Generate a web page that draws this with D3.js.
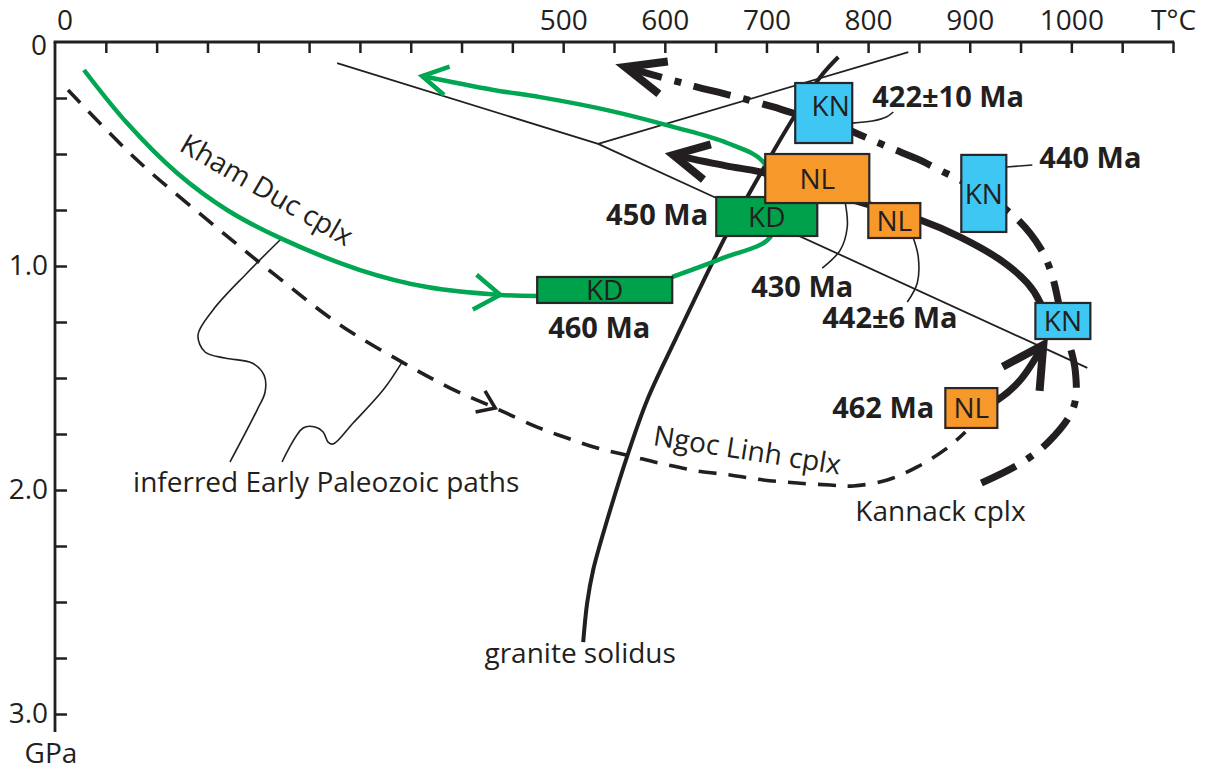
<!DOCTYPE html>
<html>
<head>
<meta charset="utf-8">
<script src="https://cdnjs.cloudflare.com/ajax/libs/d3/7.8.5/d3.min.js"></script>
<style>
  html, body { margin: 0; padding: 0; background: #fff; }
  svg { display: block; font-family: "Open Sans", sans-serif; }
</style>
</head>
<body>
<svg id="chart" width="1212" height="771"></svg>
<script>
// every point is [temperature °C, pressure GPa]

var tempTicks = d3.range(50, 1101, 50)
var tempLabels = [500, 600, 700, 800, 900, 1000]
var presTicks = d3.range(0.25, 3.01, 0.25)
var presLabels = [1, 2, 3]

// Al2SiO5-type reaction lines meeting at the triple point
var reactionA = [[277.6, 0.094], [534.4, 0.455]]
var reactionB = [[534.4, 0.455], [839.6, 0.045]]
var reactionC = [[534.4, 0.455], [1015.7, 1.455]]

var solidus = [[770.7, 0.067], [753.0, 0.156], [726.4, 0.339], [681.1, 0.692], [659.4, 0.871],
  [610.2, 1.330], [582.7, 1.598], [564.0, 1.835], [543.3, 2.134], [529.5, 2.357],
  [523.6, 2.504], [519.7, 2.679]]

// Kham Duc complex (green)
var khamDucPro = [[28.5, 0.125], [70.9, 0.362], [120.1, 0.585], [169.3, 0.75], [223.4, 0.879],
  [300.2, 1.018], [366.1, 1.094], [438, 1.129], [474.4, 1.134]]
var khamDucRetro = [[607.3, 1.049], [657.5, 0.964], [703.7, 0.871], [708.7, 0.705], [696.9, 0.536],
  [661.4, 0.451], [608.3, 0.379], [543.3, 0.304], [477.4, 0.246], [431.1, 0.214], [361.2, 0.152]]

// Ngoc Linh complex: inferred dashed path, then thick solid path
var ngocLinhInferred = [[12.8, 0.214], [80.7, 0.527], [152.6, 0.804], [216.5, 1.040], [280.5, 1.263],
  [341.5, 1.429], [388.8, 1.545], [433.1, 1.634], [474.4, 1.719], [503.9, 1.768], [533.5, 1.8125],
  [565.9, 1.848], [598.4, 1.884], [631.9, 1.915], [664.4, 1.933], [696.9, 1.955], [730.3, 1.969],
  [762.8, 1.978], [785.4, 1.982], [818.9, 1.955], [848.4, 1.897], [877.9, 1.8125], [895.7, 1.741]]
var ngocLinhPro = [[900.6, 1.652], [927.2, 1.598], [949.8, 1.509], [972.4, 1.353]]
var ngocLinhRetro = [[974.4, 1.241], [969.5, 1.165], [956.7, 1.076], [930.1, 0.973], [890.7, 0.871],
  [851.4, 0.795], [802.2, 0.728], [733.3, 0.638], [693.9, 0.580], [661.4, 0.554], [608.3, 0.504]]

// Kannack complex (dash-dot)
var kannack = [[902.6, 1.987], [948.8, 1.884], [977.4, 1.786], [1001.9, 1.634], [1003.9, 1.469],
  [991.1, 1.241], [980.3, 1.031], [969.5, 0.920], [947.8, 0.795], [915.4, 0.683], [890.7, 0.616],
  [874.0, 0.580], [848.4, 0.522], [821.9, 0.473], [792.3, 0.415], [755.9, 0.348], [726.4, 0.317],
  [706.7, 0.290], [678.1, 0.254], [651.6, 0.223], [631.9, 0.201], [561.0, 0.112]]

// dated samples: name, T range, P range
var boxNames = ['KD', 'KD', 'NL', 'NL', 'KN', 'KN', 'KN', 'NL']
var boxT = [[474.4, 607.3], [650.6, 750.0], [698.8, 801.2], [800.2, 851.4], [728.3, 784.4],
  [891.7, 936.0], [964.6, 1018.7], [876.0, 927.2]]
var boxP = [[1.049, 1.165], [0.692, 0.866], [0.500, 0.719], [0.719, 0.875], [0.183, 0.451],
  [0.504, 0.848], [1.165, 1.326], [1.545, 1.723]]

// leader lines
var lead422 = [[784.4, 0.362], [804.1, 0.353], [817.9, 0.335], [824.8, 0.3125]]
var lead430 = [[777.6, 0.719], [779.5, 0.826], [772.6, 0.929], [754.9, 1.009]]
var lead442 = [[844.5, 0.875], [849.4, 0.960], [848.4, 1.076], [838.6, 1.161]]
var lead440 = [[936.0, 0.558], [961.6, 0.549]]
var leadKD = [[223.4, 0.875], [189.0, 1.031], [155.5, 1.196], [140.7, 1.308], [147.6, 1.384],
  [167.3, 1.411], [193.9, 1.433], [205.7, 1.487], [206.7, 1.5625], [198.8, 1.643], [172.2, 1.875]]
var leadNL = [[341.5, 1.429], [322.8, 1.554], [293.3, 1.701], [273.6, 1.795], [268.7, 1.786],
  [263.8, 1.741], [255.9, 1.719], [244.1, 1.723], [223.4, 1.875]]

// age labels [text, T, P, anchor]
var ageLabels = [
  ['422±10 Ma', 804.1, 0.290, 'start'],
  ['440 Ma', 968.5, 0.5625, 'start'],
  ['450 Ma', 642.7, 0.817, 'end'],
  ['430 Ma', 735.2, 1.138, 'middle'],
  ['442±6 Ma', 754.9, 1.277, 'start'],
  ['460 Ma', 485.2, 1.321, 'start'],
  ['462 Ma', 865.2, 1.679, 'end']
]
// name labels [text, T, P, anchor, rotation]
var nameLabels = [
  ['Kannack cplx', 787.4, 2.138, 'start', 0],
  ['granite solidus', 516.7, 2.772, 'middle', 0],
  ['inferred Early Paleozoic paths', 76.8, 2.009, 'start', 0],
  ['Kham Duc cplx', 121.1, 0.482, 'start', 30],
  ['Ngoc Linh cplx', 587.6, 1.799, 'start', 9]
]

var ink = '#231f20'
var greenLine = '#00a651'
var boxColor = {KN: '#3ec7f2', NL: '#f7982b', KD: '#00a14b'}

var svg = d3.select('#chart')
var x = d3.scaleLinear().domain([0, 1100]).range([55, 1173])
var y = d3.scaleLinear().domain([0, 3]).range([42, 714])

var smooth = d3.line()
  .x(function(d) { return x(d[0]) })
  .y(function(d) { return y(d[1]) })
  .curve(d3.curveCatmullRom.alpha(0.5))
var straight = d3.line()
  .x(function(d) { return x(d[0]) })
  .y(function(d) { return y(d[1]) })

// axes
var xAxis = d3.axisTop(x)
  .tickValues(tempTicks)
  .tickSizeInner(-11)
  .tickSizeOuter(0)
  .tickPadding(12)
  .tickFormat(function(d) {
    if (d === 1100) return 'T°C'
    return tempLabels.indexOf(d) >= 0 ? d : ''
  })
var yAxis = d3.axisLeft(y)
  .tickValues(presTicks)
  .tickSizeInner(-12)
  .tickSizeOuter(0)
  .tickPadding(7)
  .tickFormat(function(d) {
    return presLabels.indexOf(Math.round(d * 100) / 100) >= 0 ? d3.format('.1f')(d) : ''
  })

function styleAxis(g) {
  g.select('.domain').remove()
  g.attr('font-family', '"Open Sans", sans-serif').attr('font-size', 28)
  g.selectAll('line').attr('stroke', ink).attr('stroke-width', 2.5)
  g.selectAll('text').attr('fill', ink)
}
svg.append('g').attr('transform', 'translate(0,' + y(0) + ')').call(xAxis).call(styleAxis)
svg.append('g').attr('transform', 'translate(' + x(0) + ',0)').call(yAxis).call(styleAxis)

svg.append('line')
  .attr('x1', x(0) - 1.4).attr('x2', x(1100) + 1.2)
  .attr('y1', y(0)).attr('y2', y(0))
  .attr('stroke', ink).attr('stroke-width', 2.8)
svg.append('line')
  .attr('x1', x(0)).attr('x2', x(0))
  .attr('y1', y(0)).attr('y2', y(3.08))
  .attr('stroke', ink).attr('stroke-width', 2.8)

svg.append('text').text('0')
  .attr('x', x(0) + 10).attr('y', y(0) - 12)
  .attr('text-anchor', 'middle').attr('font-size', 28).attr('fill', ink)
svg.append('text').text('0')
  .attr('x', x(0) - 8).attr('y', y(0) + 4).attr('dy', '0.32em')
  .attr('text-anchor', 'end').attr('font-size', 28).attr('fill', ink)
svg.append('text').text('GPa')
  .attr('x', x(0) - 4).attr('y', y(3.22))
  .attr('text-anchor', 'middle').attr('font-size', 28).attr('fill', ink)

function draw(data, gen, color, width, dash) {
  return svg.append('path')
    .datum(data)
    .attr('d', gen)
    .attr('fill', 'none')
    .attr('stroke', color)
    .attr('stroke-width', width)
    .attr('stroke-dasharray', dash || null)
}

// open arrowhead at tip, aimed away from the point "from"
function chevron(tip, from, len, half, width, color) {
  var tx = x(tip[0]), ty = y(tip[1])
  var a = Math.atan2(y(from[1]) - ty, x(from[0]) - tx)
  var p = d3.path()
  p.moveTo(tx + len * Math.cos(a + half), ty + len * Math.sin(a + half))
  p.lineTo(tx, ty)
  p.lineTo(tx + len * Math.cos(a - half), ty + len * Math.sin(a - half))
  svg.append('path')
    .attr('d', p.toString())
    .attr('fill', 'none')
    .attr('stroke', color)
    .attr('stroke-width', width)
    .attr('stroke-linejoin', 'miter')
    .attr('stroke-miterlimit', 10)
}

// reaction lines and solidus
draw(reactionA, straight, ink, 1.8)
draw(reactionB, straight, ink, 1.8)
draw(reactionC, straight, ink, 1.8)
draw(solidus, smooth, ink, 4)

// leader lines
;[lead422, lead430, lead442, leadKD, leadNL].forEach(function(l) { draw(l, smooth, ink, 1.6) })
draw(lead440, straight, ink, 1.6)

// Kham Duc
draw(khamDucPro, smooth, greenLine, 4.5)
chevron(khamDucPro[7], khamDucPro[6], 31, 0.6, 4.5, greenLine)
draw(khamDucRetro, smooth, greenLine, 4.5)
chevron(khamDucRetro[10], khamDucRetro[9], 29, 0.52, 4.5, greenLine)

// Ngoc Linh
draw(ngocLinhInferred, smooth, ink, 3.6, '18,12')
chevron(ngocLinhInferred[7], ngocLinhInferred[6], 20, 0.62, 3.6, ink)
draw(ngocLinhPro, smooth, ink, 7)
chevron(ngocLinhPro[3], ngocLinhPro[2], 46, 0.5, 8, ink)
draw(ngocLinhRetro, smooth, ink, 7)
chevron(ngocLinhRetro[10], ngocLinhRetro[9], 39, 0.48, 8, ink)

// Kannack, drawn from the arrow end so the dash pattern starts at the tip
draw(kannack.slice().reverse(), smooth, ink, 7, '38,13,7,13')
chevron(kannack[21], kannack[20], 43, 0.4, 8, ink)

// sample boxes
var order = [0, 1, 2, 3, 4, 5, 6, 7]
var boxes = svg.append('g').selectAll('g')
  .data(order)
  .join('g')
boxes.append('rect')
  .attr('x', function(i) { return x(boxT[i][0]) })
  .attr('y', function(i) { return y(boxP[i][0]) })
  .attr('width', function(i) { return x(boxT[i][1]) - x(boxT[i][0]) })
  .attr('height', function(i) { return y(boxP[i][1]) - y(boxP[i][0]) })
  .attr('fill', function(i) { return boxColor[boxNames[i]] })
  .attr('stroke', '#2a2627')
  .attr('stroke-width', 2.2)
boxes.append('text')
  .text(function(i) { return boxNames[i] })
  .attr('x', function(i) { return (x(boxT[i][0]) + x(boxT[i][1])) / 2 + (i === 4 ? 7 : 0) })
  .attr('y', function(i) { return (y(boxP[i][0]) + y(boxP[i][1])) / 2 - (i === 4 ? 7 : 0) })
  .attr('dy', '0.36em')
  .attr('text-anchor', 'middle')
  .attr('font-size', 28)
  .attr('fill', ink)

// labels
svg.append('g').selectAll('text')
  .data(ageLabels)
  .join('text')
  .text(function(d) { return d[0] })
  .attr('x', function(d) { return x(d[1]) })
  .attr('y', function(d) { return y(d[2]) })
  .attr('text-anchor', function(d) { return d[3] })
  .attr('font-size', 29)
  .attr('font-weight', 700)
  .attr('fill', ink)

svg.append('g').selectAll('text')
  .data(nameLabels)
  .join('text')
  .text(function(d) { return d[0] })
  .attr('transform', function(d) {
    return 'translate(' + x(d[1]) + ',' + y(d[2]) + ') rotate(' + d[4] + ')'
  })
  .attr('text-anchor', function(d) { return d[3] })
  .attr('font-size', 28)
  .attr('fill', ink)
</script>
</body>
</html>
